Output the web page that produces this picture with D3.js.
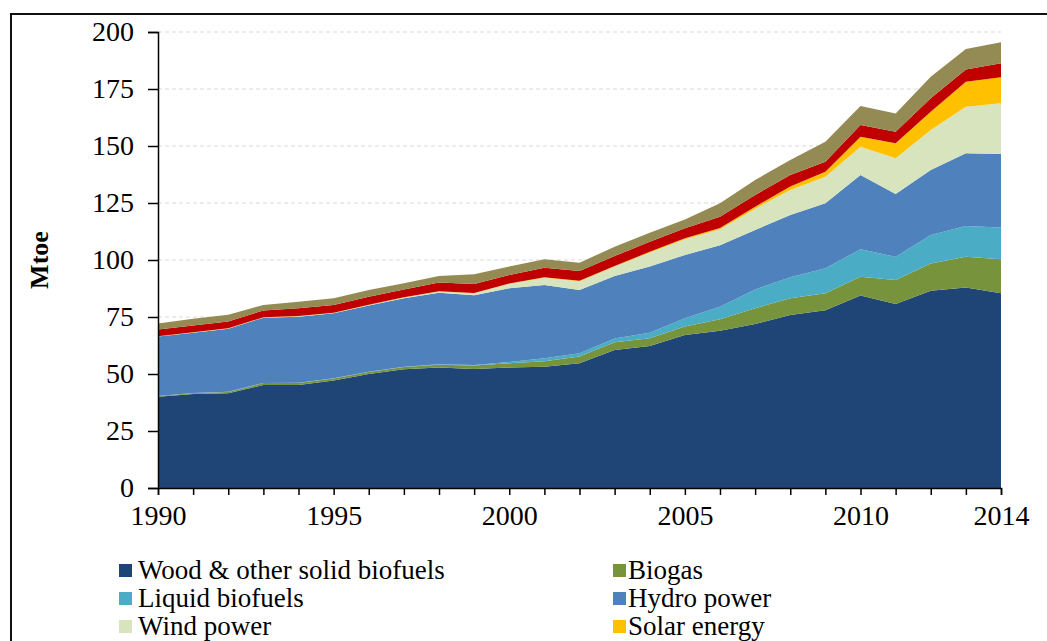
<!DOCTYPE html>
<html>
<head>
<meta charset="utf-8">
<script src="https://cdn.jsdelivr.net/npm/d3@7"></script>
<style>
  html, body { margin: 0; padding: 0; background: #fff; overflow: hidden; }
  svg { display: block; }
  text { font-family: "Liberation Serif", "Times New Roman", serif; fill: #000; }
</style>
</head>
<body>
<svg id="chart" width="1047" height="641"></svg>
<script>
// ---- data (Mtoe) ----
const years = d3.range(1990, 2015);
const seriesNames = ["Wood & other solid biofuels", "Biogas", "Liquid biofuels", "Hydro power",
                     "Wind power", "Solar energy", "Geothermal energy", "Renewable wastes"];
const legendNames = ["Wood & other solid biofuels", "Biogas", "Liquid biofuels", "Hydro power",
                     "Wind power", "Solar energy"];
const wood   = [40.0, 41.2, 41.6, 45.2, 45.2, 47.1, 50.0, 52.1, 52.8, 52.2, 52.9, 53.2, 54.7, 60.5, 62.3, 67.1, 69.0, 71.9, 75.9, 78.0, 84.4, 80.7, 86.5, 87.9, 85.4];
const biogas = [0.3, 0.4, 0.5, 0.8, 0.9, 0.9, 0.9, 1.0, 1.3, 1.5, 1.8, 2.4, 3.0, 3.4, 3.4, 3.7, 5.0, 6.9, 7.3, 7.4, 8.3, 10.5, 12.0, 13.5, 14.9];
const liquid = [0.1, 0.1, 0.1, 0.1, 0.1, 0.1, 0.1, 0.1, 0.2, 0.3, 0.6, 1.3, 1.4, 1.7, 2.4, 3.6, 5.5, 8.3, 9.2, 11.0, 12.0, 10.2, 12.5, 13.5, 14.0];
const hydro  = [26.0, 26.4, 27.7, 28.6, 28.9, 28.5, 29.0, 30.0, 31.3, 30.5, 32.3, 32.1, 27.7, 27.4, 29.0, 27.8, 27.0, 26.1, 27.3, 28.5, 32.6, 27.5, 28.5, 31.9, 32.2];
const wind   = [0.1, 0.1, 0.1, 0.1, 0.2, 0.2, 0.3, 0.4, 0.6, 0.9, 2.0, 3.2, 3.9, 4.2, 6.2, 6.9, 7.0, 9.3, 11.0, 11.6, 12.4, 15.7, 17.5, 20.4, 22.2];
const solar  = [0.1, 0.1, 0.1, 0.1, 0.1, 0.1, 0.1, 0.1, 0.1, 0.1, 0.1, 0.2, 0.2, 0.2, 0.3, 0.4, 0.5, 0.9, 1.5, 2.2, 4.4, 6.6, 8.0, 11.0, 11.4];
const geo    = [2.9, 3.0, 2.9, 3.0, 3.4, 3.4, 3.5, 3.4, 3.8, 4.0, 3.7, 4.2, 4.3, 4.4, 4.4, 4.4, 5.0, 5.1, 5.1, 4.4, 5.1, 5.1, 5.9, 5.4, 6.2];
const waste  = [2.6, 2.9, 3.0, 2.4, 2.9, 2.9, 2.9, 2.7, 2.9, 4.2, 3.7, 3.7, 3.6, 4.0, 4.0, 3.9, 5.9, 6.6, 6.6, 8.8, 8.3, 8.0, 9.5, 8.9, 9.2];
const yTicks = [0, 25, 50, 75, 100, 125, 150, 175, 200];
const xTickLabels = [1990, 1995, 2000, 2005, 2010, 2014];
const colors = ["#1F4577", "#77933C", "#4BACC6", "#4F81BD", "#D7E4BD", "#FFC000", "#C00000", "#948A54"];

// ---- build table ----
const seriesArrays = [wood, biogas, liquid, hydro, wind, solar, geo, waste];
const keys = seriesNames;
const table = years.map((yr, i) => {
  const row = { year: yr };
  keys.forEach((k, j) => { row[k] = seriesArrays[j][i]; });
  return row;
});

const svg = d3.select("#chart");

// frame
svg.append("path")
  .attr("d", "M11,641 L11,14 L1047,14")
  .attr("fill", "none").attr("stroke", "#111").attr("stroke-width", 2);

const x = d3.scaleLinear().domain([1990, 2014]).range([158, 1001]);
const y = d3.scaleLinear().domain([0, 200]).range([488, 32]);

// gridlines
svg.append("g").selectAll("line").data(yTicks.filter(d => d > 0)).join("line")
  .attr("x1", 158).attr("x2", 1001)
  .attr("y1", d => y(d)).attr("y2", d => y(d))
  .attr("stroke", "#d9d9d9").attr("stroke-width", 1).attr("stroke-dasharray", "4,3");

// stacked areas
const stack = d3.stack().keys(keys);
const layers = stack(table);
const area = d3.area()
  .x(d => x(d.data.year))
  .y0(d => y(d[0]))
  .y1(d => y(d[1]));

svg.append("g").selectAll("path").data(layers).join("path")
  .attr("d", area)
  .attr("fill", (d, i) => colors[i]);

// axes
const yAxis = d3.axisLeft(y).tickValues(yTicks).tickSize(10).tickPadding(14).tickFormat(d3.format("d"));
const gy = svg.append("g").attr("transform", "translate(158,0)").call(yAxis);
gy.select(".domain").attr("stroke", "#000").attr("stroke-width", 1.5);
gy.selectAll(".tick line").attr("stroke", "#000").attr("stroke-width", 1.5);
gy.selectAll(".tick text").attr("font-size", 28).attr("font-family", "Liberation Serif, serif").attr("fill", "#000");

const xAxis = d3.axisBottom(x).tickValues(years).tickSize(7).tickPadding(10)
  .tickFormat(d => xTickLabels.includes(d) ? String(d) : "");
const gx = svg.append("g").attr("transform", "translate(0,488)").call(xAxis);
gx.select(".domain").attr("stroke", "#000").attr("stroke-width", 1.5);
gx.selectAll(".tick line").attr("stroke", "#000").attr("stroke-width", 1.5);
gx.selectAll(".tick text").attr("font-size", 28).attr("font-family", "Liberation Serif, serif").attr("fill", "#000");

// y title
svg.append("text")
  .attr("transform", "translate(48,260) rotate(-90)")
  .attr("text-anchor", "middle")
  .attr("font-size", 26).attr("font-weight", "bold")
  .text("Mtoe");

// legend (only the rows visible in the frame)
const legend = svg.append("g");
const legendItems = legendNames.map((k, i) => ({ name: k, color: colors[i], col: i % 2, row: Math.floor(i / 2) }));
const lg = legend.selectAll("g").data(legendItems).join("g")
  .attr("transform", d => `translate(${d.col === 0 ? 119 : 613},${570 + d.row * 28})`);
lg.append("rect").attr("x", 0).attr("y", -6).attr("width", 13).attr("height", 13).attr("fill", d => d.color);
lg.append("text").attr("x", d => d.col === 0 ? 19 : 15).attr("y", 9)
  .attr("font-size", 27).text(d => d.name);
</script>
</body>
</html>
